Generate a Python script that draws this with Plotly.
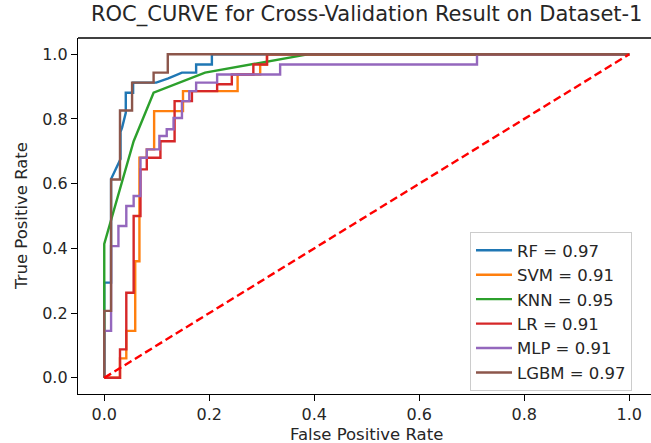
import plotly.graph_objects as go

# ---- data ----
rf_fpr = [0.0, 0.0, 0.013, 0.013, 0.031, 0.031, 0.034, 0.041, 0.041, 0.055, 0.055, 0.099, 0.122, 0.148, 0.175, 0.175, 0.205, 0.205, 1.0]
rf_tpr = [0.0, 0.294, 0.294, 0.614, 0.676, 0.76, 0.773, 0.819, 0.881, 0.881, 0.912, 0.912, 0.925, 0.943, 0.943, 0.968, 0.968, 1.0, 1.0]

svm_fpr = [0.0, 0.03, 0.03, 0.042, 0.042, 0.059, 0.059, 0.067, 0.067, 0.081, 0.081, 0.095, 0.095, 0.15, 0.15, 0.254, 0.254, 0.297, 0.297, 0.31, 0.31, 1.0]
svm_tpr = [0.0, 0.0, 0.06, 0.06, 0.145, 0.145, 0.36, 0.36, 0.68, 0.68, 0.706, 0.706, 0.824, 0.824, 0.886, 0.886, 0.937, 0.937, 0.968, 0.968, 1.0, 1.0]

knn_fpr = [0.0, 0.0, 0.056, 0.094, 0.192, 0.39, 1.0]
knn_tpr = [0.0, 0.414, 0.731, 0.881, 0.943, 1.0, 1.0]

lr_fpr = [0.0, 0.03, 0.03, 0.042, 0.042, 0.056, 0.056, 0.069, 0.069, 0.081, 0.081, 0.107, 0.107, 0.134, 0.134, 0.167, 0.167, 0.215, 0.215, 0.243, 0.243, 0.284, 0.284, 0.31, 0.31, 1.0]
lr_tpr = [0.0, 0.0, 0.088, 0.088, 0.263, 0.263, 0.5, 0.5, 0.644, 0.644, 0.68, 0.68, 0.731, 0.731, 0.855, 0.855, 0.886, 0.886, 0.907, 0.907, 0.937, 0.937, 0.968, 0.968, 1.0, 1.0]

mlp_fpr = [0.0, 0.0, 0.013, 0.013, 0.027, 0.027, 0.042, 0.042, 0.056, 0.056, 0.069, 0.069, 0.081, 0.081, 0.105, 0.105, 0.119, 0.119, 0.132, 0.132, 0.148, 0.148, 0.162, 0.162, 0.175, 0.175, 0.215, 0.215, 0.335, 0.335, 0.71, 0.71, 1.0]
mlp_tpr = [0.0, 0.145, 0.145, 0.407, 0.407, 0.469, 0.469, 0.531, 0.531, 0.562, 0.562, 0.68, 0.68, 0.706, 0.706, 0.747, 0.747, 0.768, 0.768, 0.803, 0.803, 0.855, 0.855, 0.886, 0.886, 0.912, 0.912, 0.937, 0.937, 0.968, 0.968, 1.0, 1.0]

lgbm_fpr = [0.0, 0.0, 0.013, 0.013, 0.03, 0.03, 0.053, 0.053, 0.094, 0.094, 0.121, 0.121, 1.0]
lgbm_tpr = [0.0, 0.207, 0.207, 0.613, 0.613, 0.826, 0.826, 0.912, 0.912, 0.943, 0.943, 1.0, 1.0]

model_names = ["RF", "SVM", "KNN", "LR", "MLP", "LGBM"]
auc_values = [0.97, 0.91, 0.95, 0.91, 0.91, 0.97]
colors = ["#1f77b4", "#ff7f0e", "#2ca02c", "#d62728", "#9467bd", "#8c564b"]

chance_x = [0.0, 1.0]
chance_y = [0.0, 1.0]

tick_vals = [0.0, 0.2, 0.4, 0.6, 0.8, 1.0]
tick_text = ["0.0", "0.2", "0.4", "0.6", "0.8", "1.0"]

title_text = "ROC_CURVE for Cross-Validation Result on Dataset-1"
x_label = "False Positive Rate"
y_label = "True Positive Rate"

curves = [(rf_fpr, rf_tpr), (svm_fpr, svm_tpr), (knn_fpr, knn_tpr),
          (lr_fpr, lr_tpr), (mlp_fpr, mlp_tpr), (lgbm_fpr, lgbm_tpr)]

# ---- figure ----
W, H = 651, 443
L, R, T, B = 78, 0, 38, 49
plot_w = W - L - R
plot_h = H - T - B
FONT = "DejaVu Sans"

fig = go.Figure()
for (fx, ty), name, auc, col in zip(curves, model_names, auc_values, colors):
    fig.add_trace(go.Scatter(x=fx, y=ty, mode="lines",
                             name=f"{name} = {auc:.2f}",
                             line=dict(color=col, width=2.4)))
fig.add_trace(go.Scatter(x=chance_x, y=chance_y, mode="lines", showlegend=False,
                         line=dict(color="#ff0000", width=2.4, dash="8px,4px")))

def px_x(p):
    return (p - L) / plot_w

def px_y(p):
    return (H - B - p) / plot_h

x_min = -0.05
x_max = x_min + plot_w / 525.0

fig.update_layout(
    width=W, height=H,
    margin=dict(l=L, r=R, t=T, b=B),
    paper_bgcolor="white", plot_bgcolor="white",
    font=dict(family=FONT, size=16, color="#000000"),
    xaxis=dict(range=[x_min, x_max], showgrid=False, zeroline=False,
               showline=True, linecolor="#000000", linewidth=1.3, mirror=False,
               ticks="outside", ticklen=6, tickwidth=1.3, tickcolor="#000000",
               tickvals=tick_vals, ticktext=tick_text, automargin=False,
               tickfont=dict(family=FONT, size=16, color="#262626")),
    yaxis=dict(range=[-0.05, 1.05], showgrid=False, zeroline=False,
               showline=True, linecolor="#000000", linewidth=1.3, mirror=False,
               ticks="outside", ticklen=6, tickwidth=1.3, tickcolor="#000000",
               tickvals=tick_vals, ticktext=tick_text, automargin=False,
               tickfont=dict(family=FONT, size=16, color="#262626")),
    legend=dict(x=px_x(470), y=px_y(232), xanchor="left", yanchor="top",
                bgcolor="rgba(255,255,255,0.8)", bordercolor="#cccccc", borderwidth=1,
                font=dict(family=FONT, size=16.5, color="#262626"),
                itemwidth=36, tracegroupgap=0),
    showlegend=True,
)

# top spine (right spine lies outside the picture)
fig.add_shape(type="line", xref="paper", yref="paper", x0=0, x1=1, y0=1, y1=1,
              line=dict(color="#000000", width=1.3))

fig.add_annotation(text=title_text, xref="paper", yref="paper",
                   x=px_x(366.5), y=px_y(14), showarrow=False,
                   font=dict(family=FONT, size=21, color="#262626"),
                   xanchor="center", yanchor="middle")
fig.add_annotation(text=x_label, xref="paper", yref="paper",
                   x=px_x(366.5), y=px_y(434), showarrow=False,
                   font=dict(family=FONT, size=16.5, color="#262626"),
                   xanchor="center", yanchor="middle")
fig.add_annotation(text=y_label, xref="paper", yref="paper",
                   x=px_x(21), y=px_y(216), showarrow=False, textangle=-90,
                   font=dict(family=FONT, size=16.5, color="#262626"),
                   xanchor="center", yanchor="middle")

fig.write_html("out.html", config={"displayModeBar": False},
               post_script="document.body.style.margin='0';document.body.style.padding='0';")
